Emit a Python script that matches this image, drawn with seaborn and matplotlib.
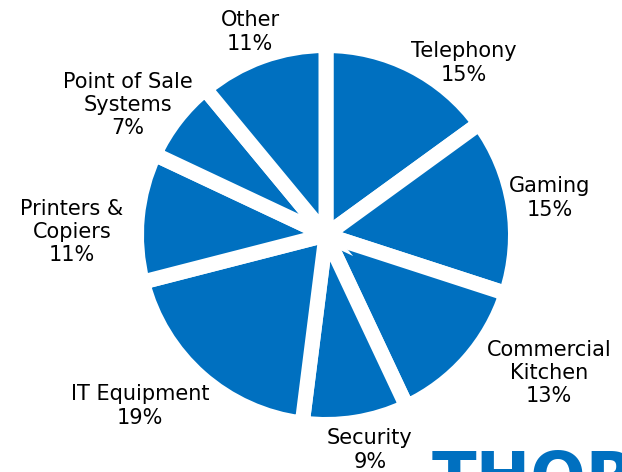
import matplotlib
matplotlib.use("Agg")
import matplotlib.pyplot as plt
import seaborn as sns

# Revenue share by end market
categories = ["Telephony", "Gaming", "Commercial\nKitchen", "Security",
              "IT Equipment", "Printers &\nCopiers", "Point of Sale\nSystems", "Other"]
shares = [15, 15, 13, 9, 19, 11, 7, 11]

# Label block centres (axes data units, pie radius = 1)
label_xy = [(0.728, 0.908), (1.182, 0.195), (1.177, -0.728), (0.232, -1.135),
            (-0.982, -0.902), (-1.340, 0.016), (-1.045, 0.686), (-0.401, 1.071)]

sns.set_theme(style="white")
plt.rcParams["font.family"] = ["DejaVu Sans"]

W, H = 622, 472
fig = plt.figure(figsize=(W / 100, H / 100), dpi=100)
fig.patch.set_facecolor("white")

cx, cy, R = 326, 235, 189.5
ax = fig.add_axes([(cx - R) / W, (H - cy - R) / H, 2 * R / W, 2 * R / H])

blue = "#0070C0"
gap_px = 15
wedges, _ = ax.pie(
    shares,
    colors=[blue] * len(shares),
    startangle=90,
    counterclock=False,
    radius=1,
    wedgeprops=dict(edgecolor="white", linewidth=gap_px * 72 / 100, joinstyle="miter"),
)
ax.set_xlim(-1, 1)
ax.set_ylim(-1, 1)
ax.set_aspect("equal")
ax.axis("off")

for name, val, (x, y) in zip(categories, shares, label_xy):
    ax.text(x, y, f"{name}\n{val}%", ha="center", va="center",
            multialignment="center", fontsize=15, color="black",
            linespacing=1.2, clip_on=False)

# Company wordmark in the lower-right corner, running off the page edge
fig.text(432 / W, -0.058, "THOR", ha="left", va="baseline",
         fontsize=47, fontweight="bold", color=blue)

fig.savefig("out.png", dpi=100, facecolor="white")
